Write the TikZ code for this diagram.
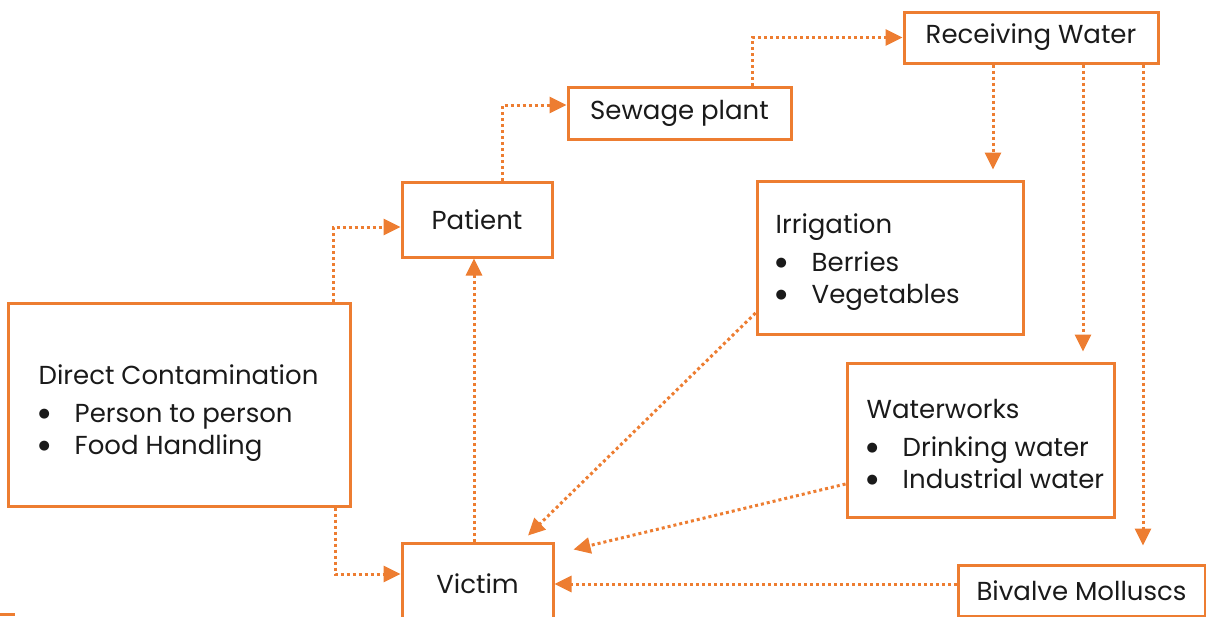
\documentclass[tikz,border=0pt]{standalone}
\usepackage{fontspec}
\setmainfont{Poppins}
\newfontfamily\symfont{DejaVu Sans}
\usetikzlibrary{arrows.meta}
\definecolor{accent}{HTML}{ED7D31}
\definecolor{ink}{HTML}{1A1A1A}
\newcommand{\bul}[1]{\makebox[36pt][l]{\raisebox{5pt}{\symfont\fontsize{13}{13}\selectfont ●}}#1}

\begin{document}
\begin{tikzpicture}[x=1pt,y=-1pt,
  box/.style={draw=accent,line width=3pt,text=ink,inner sep=0pt,font=\fontsize{26}{32}\selectfont},
  txt/.style={text=ink,inner sep=0pt,align=left,font=\fontsize{26}{32}\selectfont},
  flow/.style={draw=accent,line width=3pt,dash pattern=on 3pt off 3pt,-{Triangle[length=17pt,width=16pt]}}]
\useasboundingbox (0,0) rectangle (1206,616);
\fill[accent] (0,613) rectangle (15,616);
\node[box,minimum width=254pt,minimum height=51pt] (recv) at (1031,37.5) {Receiving Water};
\node[box,minimum width=223pt,minimum height=52pt] (sewage) at (679.5,113) {Sewage plant};
\node[box,minimum width=150pt,minimum height=75pt] (patient) at (477,219.5) {Patient};
\node[box,minimum width=266pt,minimum height=153pt] (irrig) at (890,257.5) {};
\node[box,minimum width=342pt,minimum height=203pt] (direct) at (179,404.5) {};
\node[box,minimum width=267pt,minimum height=154pt] (works) at (980.5,440) {};
\node[box,minimum width=151pt,minimum height=82pt] (victim) at (477.5,584) {Victim};
\node[box,minimum width=247pt,minimum height=51pt] (bivalve) at (1081.5,590.5) {Bivalve Molluscs};
\node[txt,anchor=west] (irrigtxt) at ([xshift=20pt,yshift=-5pt]irrig.west) {Irrigation\\[6pt]\bul{Berries}\\\bul{Vegetables}};
\node[txt,anchor=west] (directtxt) at ([xshift=32pt,yshift=-9pt]direct.west) {Direct Contamination\\[6pt]\bul{Person to person}\\\bul{Food Handling}};
\node[txt,anchor=west] (workstxt) at ([xshift=21pt,yshift=-4pt]works.west) {Waterworks\\[6pt]\bul{Drinking water}\\\bul{Industrial water}};
\draw[flow] ([xshift=72.5pt]sewage.north) |- (recv.west);
\draw[flow] ([xshift=25pt]patient.north) |- ([yshift=8pt]sewage.west);
\draw[flow] ([xshift=154pt]direct.north) |- ([yshift=-7.5pt]patient.west);
\draw[flow] ([xshift=156pt]direct.south) |- ([yshift=10pt]victim.west);
\draw[flow] ([xshift=-3.5pt]victim.north) -- ([xshift=-3.5pt]victim.north |- patient.south);
\draw[flow] ([yshift=-55.5pt]irrig.west) -- ([xshift=50.5pt,yshift=6pt]victim.north);
\draw[flow] ([yshift=-44pt]works.west) -- ([xshift=19pt,yshift=-8pt]victim.north east);
\draw[flow] (bivalve.west |- victim.east) -- (victim.east);
\draw[flow,shorten >=10pt] ([xshift=-38pt]recv.south) -- ([xshift=-38pt]recv.south |- irrig.north);
\draw[flow,shorten >=10pt] ([xshift=52pt]recv.south) -- ([xshift=52pt]recv.south |- works.north);
\draw[flow,shorten >=18pt] ([xshift=112pt]recv.south) -- ([xshift=112pt]recv.south |- bivalve.north);
\end{tikzpicture}
\end{document}
